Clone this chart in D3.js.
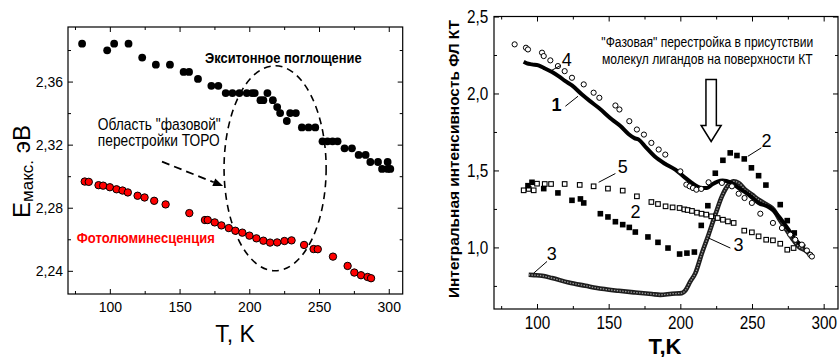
<!DOCTYPE html>
<html>
<head>
<meta charset="utf-8">
<script src="https://cdn.jsdelivr.net/npm/d3@7"></script>
<style>
  body { margin: 0; background: #fff; }
  svg { display: block; font-family: "Liberation Sans", Arial, sans-serif; }
</style>
</head>
<body>
<svg id="chart" width="839" height="357"></svg>
<script>
// ---- values ----
const tempTicks = [100, 150, 200, 250, 300]
const tempMinor = [75, 125, 175, 225, 275]
const energyTicks = [2.24, 2.28, 2.32, 2.36]
const energyMinor = [2.26, 2.30, 2.34, 2.38]
const intensityTicks = [1.0, 1.5, 2.0, 2.5]
const intensityMinor = [0.75, 1.25, 1.75, 2.25]

// left panel: peak energy (eV) vs T (K)
const exciton = [
  [80.1, 2.384], [98.1, 2.3798], [103.1, 2.384], [113.4, 2.384], [123.2, 2.3752], [133.0, 2.3707],
  [143.1, 2.3707], [152.9, 2.3661], [156.8, 2.3661], [163.2, 2.3617], [172.8, 2.3573], [177.8, 2.3573],
  [183.1, 2.3527], [187.9, 2.3527], [192.9, 2.3527], [198.2, 2.3527], [202.0, 2.3527], [203.9, 2.3527],
  [208.0, 2.3482], [210.1, 2.3482], [213.0, 2.3527], [216.9, 2.3482], [220.0, 2.3438], [222.1, 2.340],
  [226.9, 2.335], [229.3, 2.340], [233.4, 2.340], [237.7, 2.3309], [242.5, 2.3309], [247.3, 2.3309],
  [252.5, 2.3221], [256.1, 2.3221], [259.7, 2.3221], [263.3, 2.3221], [268.3, 2.3177], [273.6, 2.3177],
  [278.4, 2.3135], [283.4, 2.3135], [286.8, 2.309], [292.3, 2.309], [295.2, 2.3046], [299.2, 2.3046],
  [299.2, 2.309], [301.1, 2.3046]
]
const photolum = [
  [82.0, 2.2966], [84.9, 2.2964], [91.9, 2.2943], [95.2, 2.294], [100.0, 2.293], [104.8, 2.2917],
  [109.1, 2.2909], [112.9, 2.2897], [119.9, 2.2876], [124.9, 2.2865], [131.8, 2.2844], [140.0, 2.2821],
  [157.0, 2.2766], [168.2, 2.2722], [170.2, 2.2722], [175.2, 2.2707], [180.0, 2.2688], [185.3, 2.2671],
  [190.0, 2.2654], [195.0, 2.2642], [200.1, 2.2623], [205.1, 2.2606], [210.1, 2.2591], [214.9, 2.2579],
  [220.0, 2.258], [225.2, 2.2589], [230.3, 2.2593], [239.3, 2.2564], [246.1, 2.2538], [249.1, 2.2537],
  [260.0, 2.249], [270.5, 2.2431], [275.3, 2.2389], [280.1, 2.2372], [284.8, 2.2361], [287.3, 2.2353]
]

// right panel: integrated PL intensity vs T (K), curves 1..5
const curve1 = [
  [90.7, 2.206], [93, 2.196], [96.5, 2.189], [101, 2.182], [105, 2.165], [110.5, 2.139], [115, 2.113],
  [119.8, 2.08], [124.4, 2.052], [131.4, 1.993], [137, 1.95], [143, 1.907], [152.3, 1.831], [158, 1.79],
  [164, 1.735], [168, 1.71], [171, 1.70], [176, 1.65], [182, 1.592], [189, 1.545], [196.5, 1.506],
  [203, 1.455], [208, 1.419], [212, 1.395], [215, 1.386], [218.6, 1.386], [222, 1.408], [226, 1.428],
  [229.5, 1.434], [234.9, 1.423], [240.7, 1.386], [247.6, 1.343], [254.6, 1.289], [261.6, 1.263],
  [265, 1.24], [268.6, 1.202], [275.5, 1.115], [280.2, 1.05], [284, 1.02], [287.1, 1.006]
]
const curve2 = [
  [93.7, 1.401], [96.5, 1.423], [104.7, 1.382], [114.6, 1.354], [124.4, 1.306], [130.3, 1.315],
  [132.6, 1.289], [144.2, 1.219], [149.5, 1.198], [154.7, 1.167], [159.8, 1.148], [164.4, 1.130],
  [168.6, 1.100], [177.4, 1.068], [184.4, 1.033], [191.4, 0.996], [199.5, 0.957], [204.6, 0.963],
  [209.8, 0.970], [214.6, 1.143], [219.2, 1.271], [224.4, 1.482], [229.7, 1.566], [234.8, 1.614],
  [239.5, 1.597], [244.6, 1.575], [249.6, 1.517], [254.6, 1.466], [259.7, 1.405], [269.7, 1.278],
  [274.6, 1.174], [279.5, 1.094]
]
const curve3 = [
  [94.2, 0.822], [98, 0.82], [103.5, 0.816], [110.5, 0.801], [122.1, 0.772], [133.7, 0.751],
  [145.3, 0.731], [157, 0.718], [168.6, 0.707], [180.2, 0.697], [186, 0.692], [194.1, 0.699],
  [201.1, 0.703], [203.5, 0.72], [207, 0.779], [210.5, 0.833], [215.1, 0.964], [219.7, 1.083],
  [224.4, 1.213], [229, 1.332], [233.7, 1.408], [237.2, 1.429], [240.7, 1.419], [245.3, 1.375],
  [250, 1.343], [254.6, 1.31], [260.4, 1.278], [265.1, 1.245], [268.6, 1.191], [273.2, 1.126],
  [277.9, 1.061], [282.5, 1.006], [288.3, 0.974], [290.7, 0.952]
]
const curve4 = [
  [84.4, 2.319], [92.3, 2.297], [93.7, 2.286], [103.5, 2.265], [104.7, 2.243], [109.3, 2.215],
  [114.6, 2.178], [119.3, 2.145], [124.4, 2.102], [132.6, 2.059], [139.5, 2.005], [143.5, 1.972],
  [154.7, 1.922], [157.5, 1.896], [164.4, 1.820], [169.7, 1.766], [174.6, 1.733], [179.8, 1.679],
  [184.9, 1.636], [189.5, 1.603], [200.0, 1.494], [204.2, 1.408], [206.5, 1.397], [208.8, 1.386],
  [211.2, 1.375], [214.6, 1.38], [219.7, 1.423], [229.0, 1.419], [236.0, 1.397], [240.7, 1.349],
  [244.8, 1.321], [249.9, 1.289], [255.8, 1.219], [264.6, 1.159], [270.9, 1.126], [276.7, 1.083],
  [280.2, 1.05], [284.8, 1.018], [288.3, 0.98], [290.7, 0.952], [291.8, 0.941]
]
const curve5 = [
  [90.7, 1.371], [94.2, 1.380], [97.7, 1.371], [100, 1.414], [105.4, 1.412], [109.8, 1.412],
  [119.3, 1.412], [129.8, 1.406], [139.5, 1.397], [149.5, 1.382], [159.8, 1.369], [169.7, 1.332],
  [179.8, 1.295], [184.4, 1.282], [189.7, 1.267], [194.6, 1.260], [199.5, 1.256], [202.8, 1.247],
  [205.1, 1.243], [208.1, 1.237], [211.6, 1.226], [214.8, 1.219], [218.1, 1.213], [221.6, 1.202],
  [226, 1.191], [229.7, 1.180], [233.2, 1.169], [237.2, 1.159], [244.6, 1.109], [249.9, 1.098],
  [254.6, 1.072], [259.9, 1.050], [264.6, 1.046], [269.7, 1.024], [274.6, 0.985], [279, 0.996]
]

// annotations, positioned in data units
const leftNotes = [
  { text: 'Экситонное поглощение', t: 168.2, v: 2.3718, len: 157, size: 14, weight: 'bold', color: '#000' },
  { text: 'Область "фазовой"', t: 91.4, v: 2.3295, len: 123, size: 16, weight: 'normal', color: '#000' },
  { text: 'перестройки ТОРО', t: 91.4, v: 2.3194, len: 122, size: 16, weight: 'normal', color: '#000' },
  { text: 'Фотолюминесценция', t: 76.3, v: 2.2577, len: 138, size: 14, weight: 'bold', color: '#f00' }
]
const rightNotes = [
  { text: '"Фазовая" перестройка в присутствии', t: 144.9, v: 2.299, len: 212, size: 14 },
  { text: 'молекул лигандов на поверхности КТ', t: 145.3, v: 2.189, len: 211, size: 14 }
]
const curveLabels = [
  { text: '4', t: 117.2, v: 2.176, bold: false },
  { text: '1', t: 110.2, v: 1.883, bold: true },
  { text: '2', t: 256.7, v: 1.655, bold: false },
  { text: '5', t: 156.3, v: 1.486, bold: false },
  { text: '2', t: 165.3, v: 1.193, bold: false },
  { text: '3', t: 106.8, v: 0.92, bold: false },
  { text: '3', t: 237.1, v: 0.979, bold: false }
]
const leaders = [
  [[116.5, 2.182], [110.2, 2.150]],
  [[119.8, 1.917], [128.6, 1.982]],
  [[256.5, 1.647], [247.1, 1.592]],
  [[154.7, 1.480], [143.0, 1.423]],
  [[107.0, 0.909], [97.7, 0.833]],
  [[234.9, 0.996], [219.7, 1.061]]
]
const phaseEllipse = { t: 218.5, v: 2.305, dt: 36.6, dv: 0.065 }
const dashedArrow = [[137.4, 2.3092], [181.2, 2.2938]]
const downArrow = { t: 221.5, top: 2.091, neck: 1.792, tip: 1.688 }

const svg = d3.select('#chart')

const xL = d3.scaleLinear([70, 310], [68, 402.7])
const yL = d3.scaleLinear([2.2253, 2.3946], [294, 27])
const xR = d3.scaleLinear([70, 310], [494, 838])
const yR = d3.scaleLinear([0.6, 2.5], [309, 16.5])

const fmt = digits => d => d.toFixed(digits).replace('.', ',')

/**
 * Box frame with inward ticks on all four sides, labels on bottom and left.
 */
function drawFrame (x, y, yTicks, yMinor, o) {
  const g = svg.append('g')
  const [x0, x1] = x.range()
  const [y0, y1] = y.range()

  const sides = [
    [d3.axisBottom(x), `translate(0,${y0})`, tempTicks, tempMinor, true],
    [d3.axisTop(x), `translate(0,${y1})`, tempTicks, tempMinor, false],
    [d3.axisLeft(y), `translate(${x0},0)`, yTicks, yMinor, true],
    [d3.axisRight(y), `translate(${x1},0)`, yTicks, yMinor, false]
  ]
  sides.forEach(([axis, tr, major, minor, labelled], i) => {
    const horizontal = i < 2
    const majAxis = axis.tickValues(major).tickSizeInner(-5).tickSizeOuter(0)
      .tickPadding(horizontal ? o.xPad : o.yPad)
      .tickFormat(labelled ? (horizontal ? d3.format('d') : fmt(o.digits)) : '')
    const ag = g.append('g').attr('transform', tr).call(majAxis)
    ag.select('.domain').remove()
    ag.selectAll('text')
      .attr('font-family', null)
      .style('font-size', o.fontSize + 'px')
      .attr('fill', '#000')
      .attr('transform', `scale(${o.squeeze},1)`)
    const minAxis = axis.tickValues(minor).tickSizeInner(-3).tickFormat('')
    const mg = g.append('g').attr('transform', tr).call(minAxis)
    mg.select('.domain').remove()
  })
  g.selectAll('.tick line').attr('stroke', '#000').attr('stroke-width', 1)

  g.append('rect')
    .attr('x', x0).attr('y', y1)
    .attr('width', x1 - x0).attr('height', y0 - y1)
    .attr('fill', 'none').attr('stroke', '#000').attr('stroke-width', 1.2)
  return g
}

/**
 * Places a note at its data position, squeezed horizontally to its measured width.
 */
function placeNotes (g, notes, x, y) {
  g.selectAll(null)
    .data(notes).enter().append('text')
    .style('font-size', d => d.size + 'px').style('font-weight', d => d.weight || 'normal')
    .attr('fill', d => d.color || '#000')
    .text(d => d.text)
    .each(function (d) {
      const w = this.getComputedTextLength()
      const s = Math.min(1, d.len / w)
      d3.select(this).attr('transform', `translate(${x(d.t)},${y(d.v)}) scale(${s},1)`)
    })
}

// ---------------- left panel ----------------
drawFrame(xL, yL, energyTicks, energyMinor, { fontSize: 14, squeeze: 1, xPad: 8, yPad: 5, digits: 2 })

const left = svg.append('g')

left.append('ellipse')
  .attr('cx', xL(phaseEllipse.t)).attr('cy', yL(phaseEllipse.v))
  .attr('rx', xL(phaseEllipse.t + phaseEllipse.dt) - xL(phaseEllipse.t))
  .attr('ry', yL(phaseEllipse.v) - yL(phaseEllipse.v + phaseEllipse.dv))
  .attr('fill', 'none').attr('stroke', '#000').attr('stroke-width', 1.6)
  .attr('stroke-dasharray', '7 5')

left.selectAll('circle.exc')
  .data(exciton).enter().append('circle')
  .attr('cx', d => xL(d[0])).attr('cy', d => yL(d[1]))
  .attr('r', 3.9).attr('fill', '#000')

left.selectAll('circle.pl')
  .data(photolum).enter().append('circle')
  .attr('cx', d => xL(d[0])).attr('cy', d => yL(d[1]))
  .attr('r', 3.7).attr('fill', '#ff0000').attr('stroke', '#000').attr('stroke-width', 1)

// dashed pointer toward the ellipse
{
  const [a, b] = dashedArrow.map(p => [xL(p[0]), yL(p[1])])
  const ang = Math.atan2(b[1] - a[1], b[0] - a[0])
  const headLen = 10
  const base = [b[0] - headLen * Math.cos(ang), b[1] - headLen * Math.sin(ang)]
  left.append('line')
    .attr('x1', a[0]).attr('y1', a[1]).attr('x2', base[0]).attr('y2', base[1])
    .attr('stroke', '#000').attr('stroke-width', 1.8).attr('stroke-dasharray', '8 5')
  const w = 4
  const pts = [b,
    [base[0] + w * Math.sin(ang), base[1] - w * Math.cos(ang)],
    [base[0] - w * Math.sin(ang), base[1] + w * Math.cos(ang)]]
  left.append('polygon').attr('points', pts.map(p => p.join(',')).join(' ')).attr('fill', '#000')
}

placeNotes(left, leftNotes, xL, yL)

// axis titles
const yTitleL = svg.append('text')
  .attr('transform', 'translate(30,218) rotate(-90)')
  .attr('fill', '#000')
yTitleL.append('tspan').style('font-size', '24px').text('E')
yTitleL.append('tspan').style('font-size', '17px').attr('dy', 3).text('макс.')
yTitleL.append('tspan').style('font-size', '24px').attr('dy', -3).text(' эВ')

svg.append('text')
  .attr('x', 235).attr('y', 341.5).attr('text-anchor', 'middle')
  .style('font-size', '23px').attr('fill', '#000')
  .text('T, K')

// ---------------- right panel ----------------
drawFrame(xR, yR, intensityTicks, intensityMinor, { fontSize: 18, squeeze: 0.85, xPad: 7.5, yPad: 6.7, digits: 1 })

const right = svg.append('g')
const lineR = d3.line().x(d => xR(d[0])).y(d => yR(d[1])).curve(d3.curveMonotoneX)

// curve 3: dense chain of small rings, drawn as a banded line
right.append('path').datum(curve3)
  .attr('d', lineR).attr('fill', 'none')
  .attr('stroke', '#1e1e1e').attr('stroke-width', 4.6).attr('stroke-linejoin', 'round')
right.append('path').datum(curve3)
  .attr('d', lineR).attr('fill', 'none')
  .attr('stroke', '#a0a0a0').attr('stroke-width', 1.3).attr('stroke-dasharray', '1.4 1.4')

// curve 1: thick solid line
right.append('path').datum(curve1)
  .attr('d', lineR).attr('fill', 'none')
  .attr('stroke', '#000').attr('stroke-width', 4).attr('stroke-linejoin', 'round')

right.selectAll('rect.c5')
  .data(curve5).enter().append('rect')
  .attr('x', d => xR(d[0]) - 2.3).attr('y', d => yR(d[1]) - 2.3)
  .attr('width', 4.6).attr('height', 4.6)
  .attr('fill', '#fff').attr('stroke', '#000').attr('stroke-width', 1.1)

right.selectAll('rect.c2')
  .data(curve2).enter().append('rect')
  .attr('x', d => xR(d[0]) - 2.8).attr('y', d => yR(d[1]) - 2.8)
  .attr('width', 5.6).attr('height', 5.6).attr('fill', '#000')

right.selectAll('circle.c4')
  .data(curve4).enter().append('circle')
  .attr('cx', d => xR(d[0])).attr('cy', d => yR(d[1]))
  .attr('r', 2.6).attr('fill', '#fff').attr('stroke', '#000').attr('stroke-width', 1)

// hollow arrow marking the phase rearrangement
{
  const cx = xR(downArrow.t)
  const top = yR(downArrow.top), neck = yR(downArrow.neck), tip = yR(downArrow.tip)
  const sw = 5.2, hw = 10
  const pts = [[cx - sw, top], [cx + sw, top], [cx + sw, neck], [cx + hw, neck],
    [cx, tip], [cx - hw, neck], [cx - sw, neck]]
  right.append('polygon').attr('points', pts.map(p => p.join(',')).join(' '))
    .attr('fill', '#fff').attr('stroke', '#000').attr('stroke-width', 1.5)
    .attr('stroke-linejoin', 'miter')
}

placeNotes(right, rightNotes, xR, yR)

right.selectAll('line.leader')
  .data(leaders).enter().append('line')
  .attr('x1', d => xR(d[0][0])).attr('y1', d => yR(d[0][1]))
  .attr('x2', d => xR(d[1][0])).attr('y2', d => yR(d[1][1]))
  .attr('stroke', '#000').attr('stroke-width', 1)

right.selectAll('text.lbl')
  .data(curveLabels).enter().append('text')
  .attr('x', d => xR(d.t)).attr('y', d => yR(d.v))
  .style('font-size', '18px').style('font-weight', d => d.bold ? 'bold' : 'normal')
  .attr('fill', '#000')
  .text(d => d.text)

svg.append('text')
  .attr('transform', 'translate(459,159) rotate(-90)')
  .attr('text-anchor', 'middle')
  .attr('textLength', 278).attr('lengthAdjust', 'spacingAndGlyphs')
  .style('font-size', '15px').style('font-weight', 'bold').attr('fill', '#000')
  .text('Интегральная интенсивность ФЛ КТ')

svg.append('text')
  .attr('x', 665).attr('y', 353.5).attr('text-anchor', 'middle')
  .style('font-size', '22px').style('font-weight', 'bold').attr('fill', '#000')
  .text('T,K')
</script>
</body>
</html>
